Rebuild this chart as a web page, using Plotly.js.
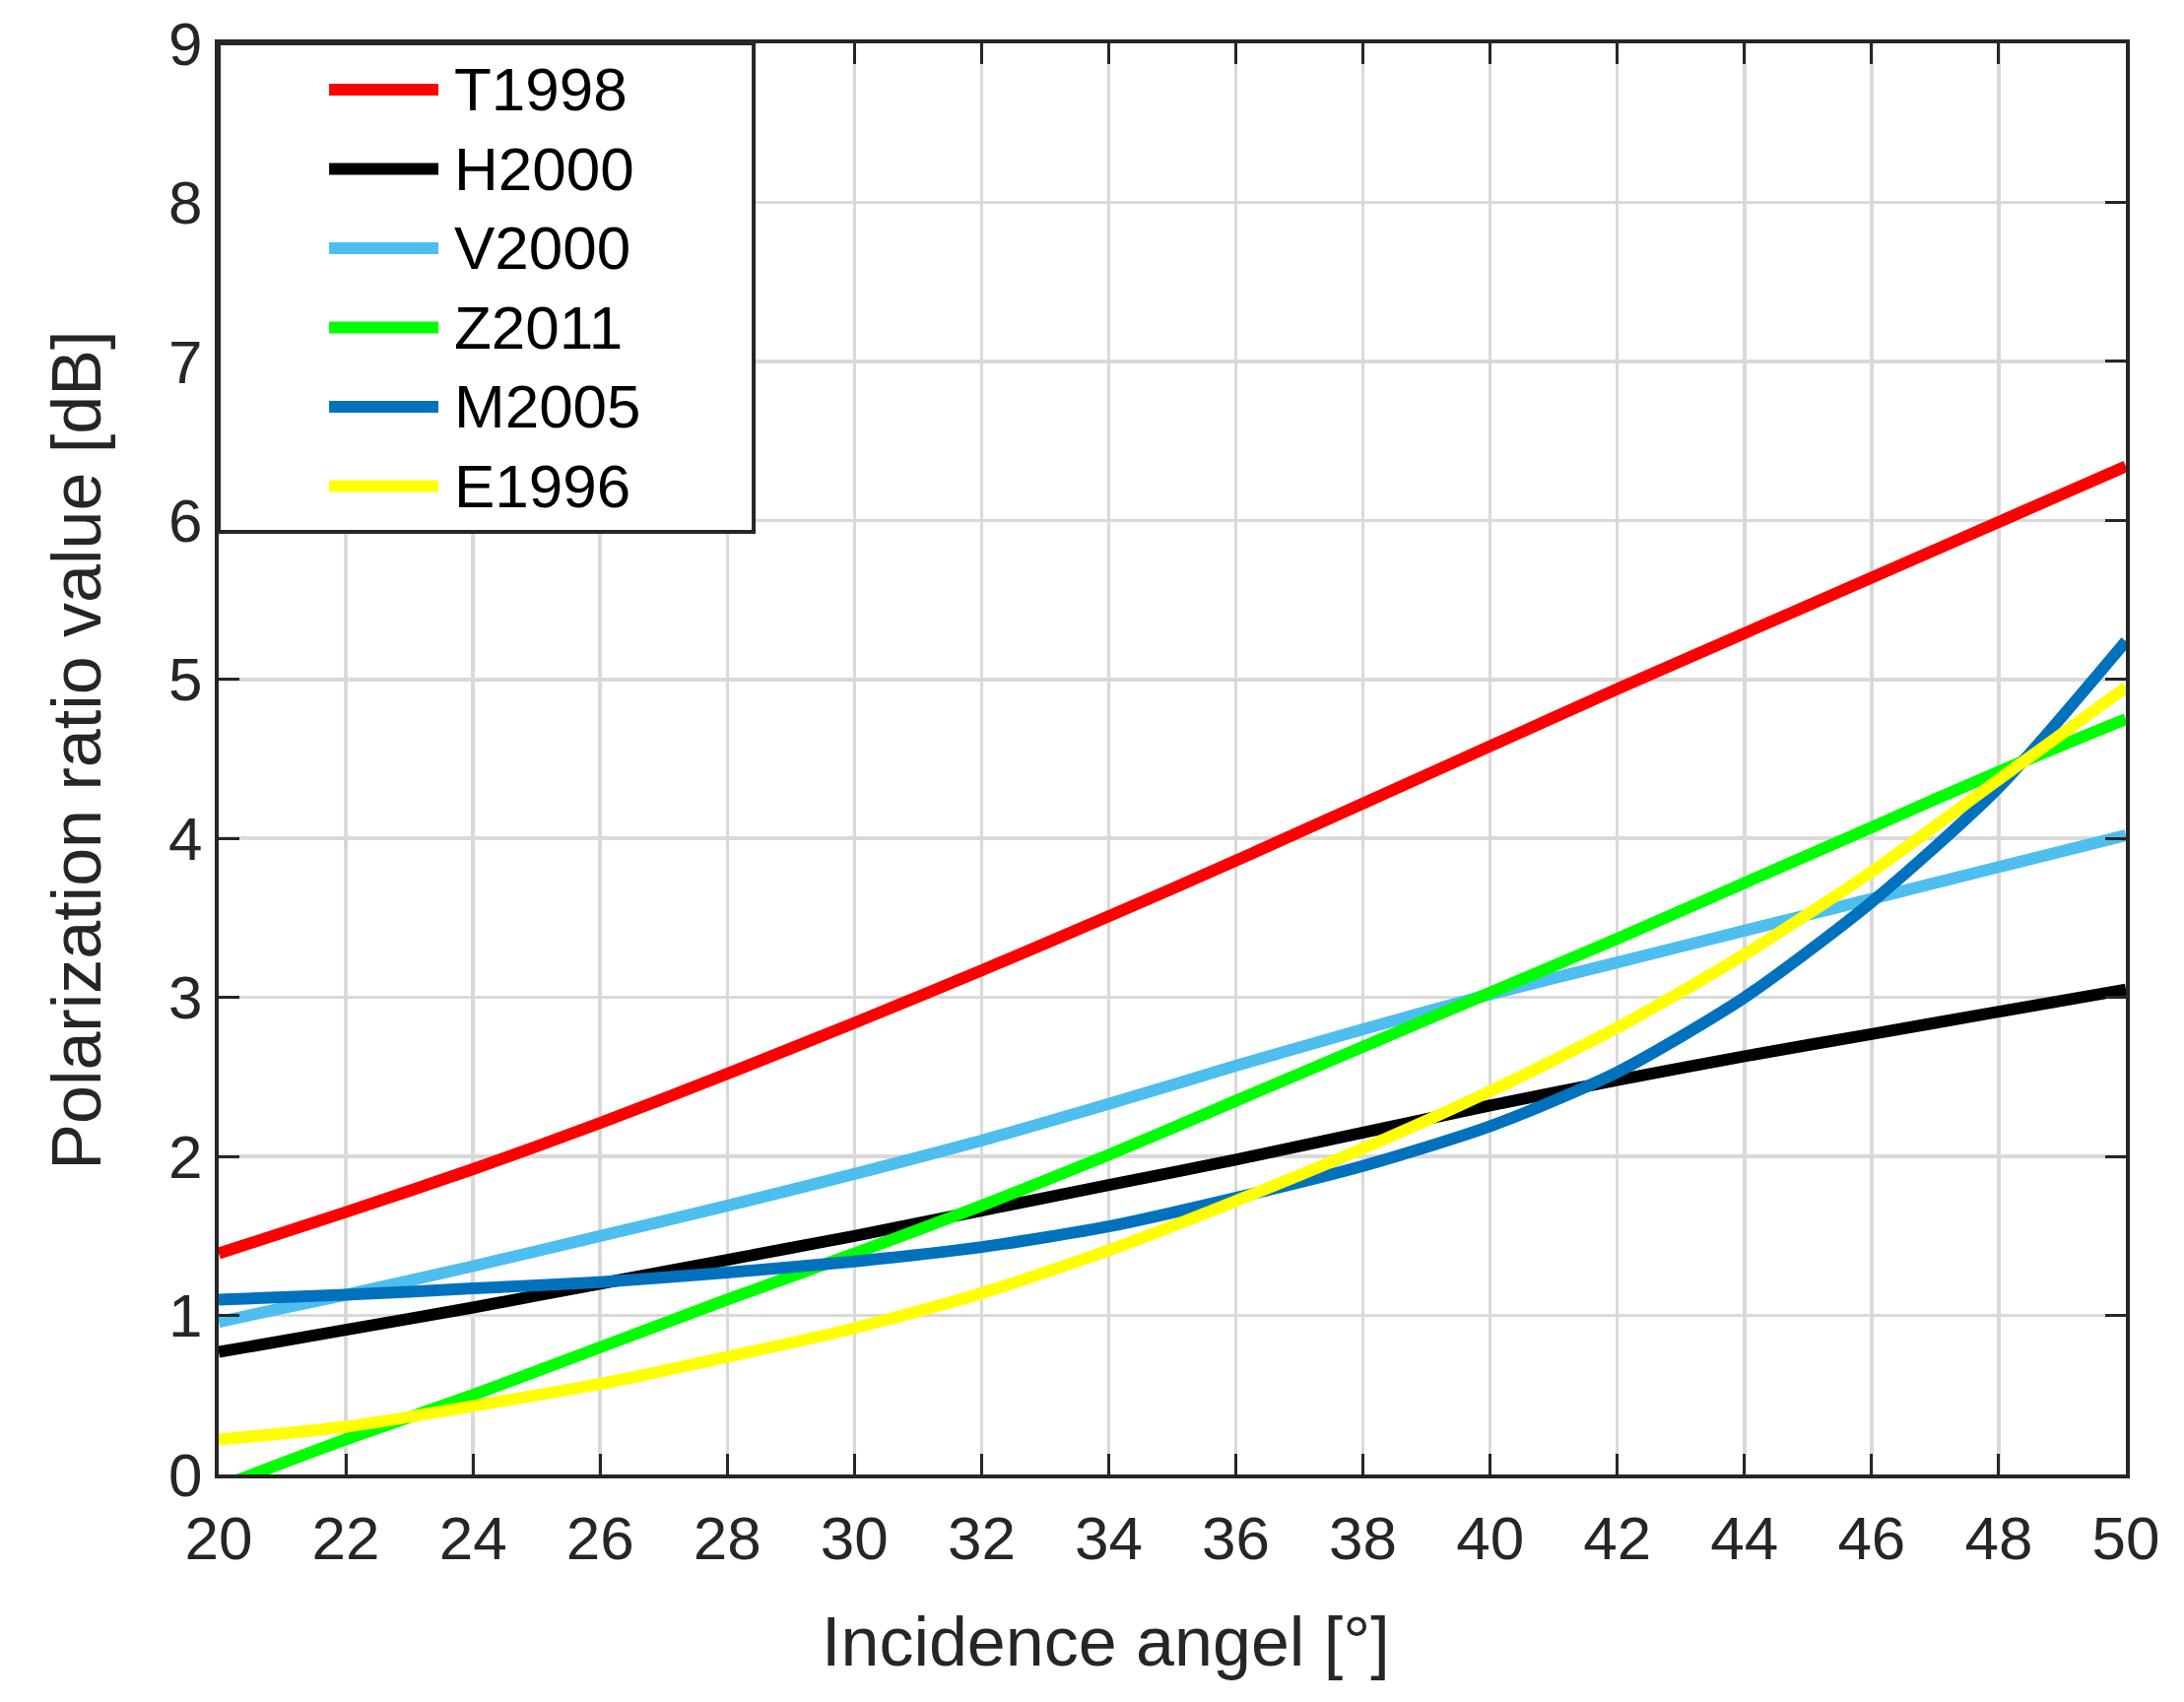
<!DOCTYPE html>
<html>
<head>
<meta charset="utf-8">
<script src="https://cdn.plot.ly/plotly-3.0.1.min.js"></script>
<style>
  html, body { margin: 0; padding: 0; background: #fff; }
  #chart { width: 2217px; height: 1728px; }
</style>
</head>
<body>
<div id="chart"></div>
<script>
// incidence angle [deg]
var angles = [20, 22, 24, 26, 28, 30, 32, 34, 36, 38, 40, 42, 44, 46, 48, 50];

// polarization ratio [dB]
var t1998 = [1.39, 1.65, 1.92, 2.21, 2.52, 2.84, 3.17, 3.51, 3.86, 4.22, 4.58, 4.94, 5.29, 5.64, 5.99, 6.34];
var h2000 = [0.77, 0.91, 1.05, 1.20, 1.35, 1.50, 1.66, 1.82, 1.98, 2.15, 2.32, 2.48, 2.63, 2.77, 2.91, 3.05];
var v2000 = [0.96, 1.13, 1.31, 1.50, 1.69, 1.89, 2.10, 2.33, 2.57, 2.80, 3.02, 3.22, 3.42, 3.62, 3.82, 4.02];
var z2011 = [-0.08, 0.22, 0.50, 0.80, 1.10, 1.39, 1.69, 2.01, 2.35, 2.69, 3.03, 3.37, 3.72, 4.07, 4.42, 4.75];
var m2005 = [1.10, 1.13, 1.17, 1.21, 1.27, 1.34, 1.43, 1.56, 1.74, 1.94, 2.19, 2.53, 3.00, 3.60, 4.32, 5.24];
var e1996 = [0.22, 0.30, 0.43, 0.57, 0.74, 0.92, 1.14, 1.41, 1.72, 2.05, 2.41, 2.81, 3.27, 3.79, 4.37, 4.95];

var names = ['T1998', 'H2000', 'V2000', 'Z2011', 'M2005', 'E1996'];
var colors = ['#ff0000', '#000000', '#4dbeee', '#00ff00', '#0072bd', '#ffff00'];
var values = [t1998, h2000, v2000, z2011, m2005, e1996];

var font = 'Liberation Sans, Arial, Helvetica, sans-serif';
var ink = '#262626';

var data = names.map(function (name, i) {
    return {
        x: angles,
        y: values[i],
        type: 'scatter',
        mode: 'lines',
        name: name,
        line: { color: colors[i], width: 12, shape: 'spline', smoothing: 0.7 },
        showlegend: false
    };
});

// legend drawn by hand so the line samples get MATLAB's length
var shapes = [{
    type: 'rect', xref: 'paper', yref: 'paper',
    x0: 0, x1: 0.2805, y0: 0.6586, y1: 1,
    fillcolor: '#ffffff', line: { color: ink, width: 4 }, layer: 'above'
}];
var annotations = [];
var rowTop = 0.9677, rowStep = 0.0554;
names.forEach(function (name, i) {
    var yy = rowTop - i * rowStep;
    shapes.push({
        type: 'line', xref: 'paper', yref: 'paper',
        x0: 0.0579, x1: 0.1152, y0: yy, y1: yy,
        line: { color: colors[i], width: 12 }, layer: 'above'
    });
    annotations.push({
        xref: 'paper', yref: 'paper', x: 0.1224, y: yy,
        xanchor: 'left', yanchor: 'middle', showarrow: false,
        text: name, font: { family: font, size: 62, color: '#000' }
    });
});

// axis titles
annotations.push({
    xref: 'paper', yref: 'paper', x: 0.465, y: -0.117,
    xanchor: 'center', yanchor: 'middle', showarrow: false,
    text: 'Incidence angel [°]', font: { family: font, size: 70, color: ink }
});
annotations.push({
    xref: 'paper', yref: 'paper', x: -0.0744, y: 0.506,
    xanchor: 'center', yanchor: 'middle', showarrow: false, textangle: -90,
    text: 'Polarization ratio value [dB]', font: { family: font, size: 70, color: ink }
});

var axisStyle = {
    showline: true, linecolor: ink, linewidth: 4, mirror: 'allticks',
    ticks: 'inside', ticklen: 21, tickwidth: 3, tickcolor: ink,
    showgrid: true, gridcolor: '#d9d9d9', gridwidth: 3.5,
    zeroline: false,
    tickfont: { family: font, size: 62, color: ink }
};

var layout = {
    width: 2217, height: 1728,
    margin: { l: 222, r: 59, t: 44, b: 231 },
    paper_bgcolor: '#ffffff', plot_bgcolor: '#ffffff',
    xaxis: Object.assign({}, axisStyle, { range: [20, 50], dtick: 2, tick0: 20, ticklabelstandoff: 8 }),
    yaxis: Object.assign({}, axisStyle, { range: [0, 9], dtick: 1, tick0: 0 }),
    shapes: shapes,
    annotations: annotations
};

Plotly.newPlot(document.getElementById('chart'), data, layout, { staticPlot: true });
</script>
</body>
</html>
